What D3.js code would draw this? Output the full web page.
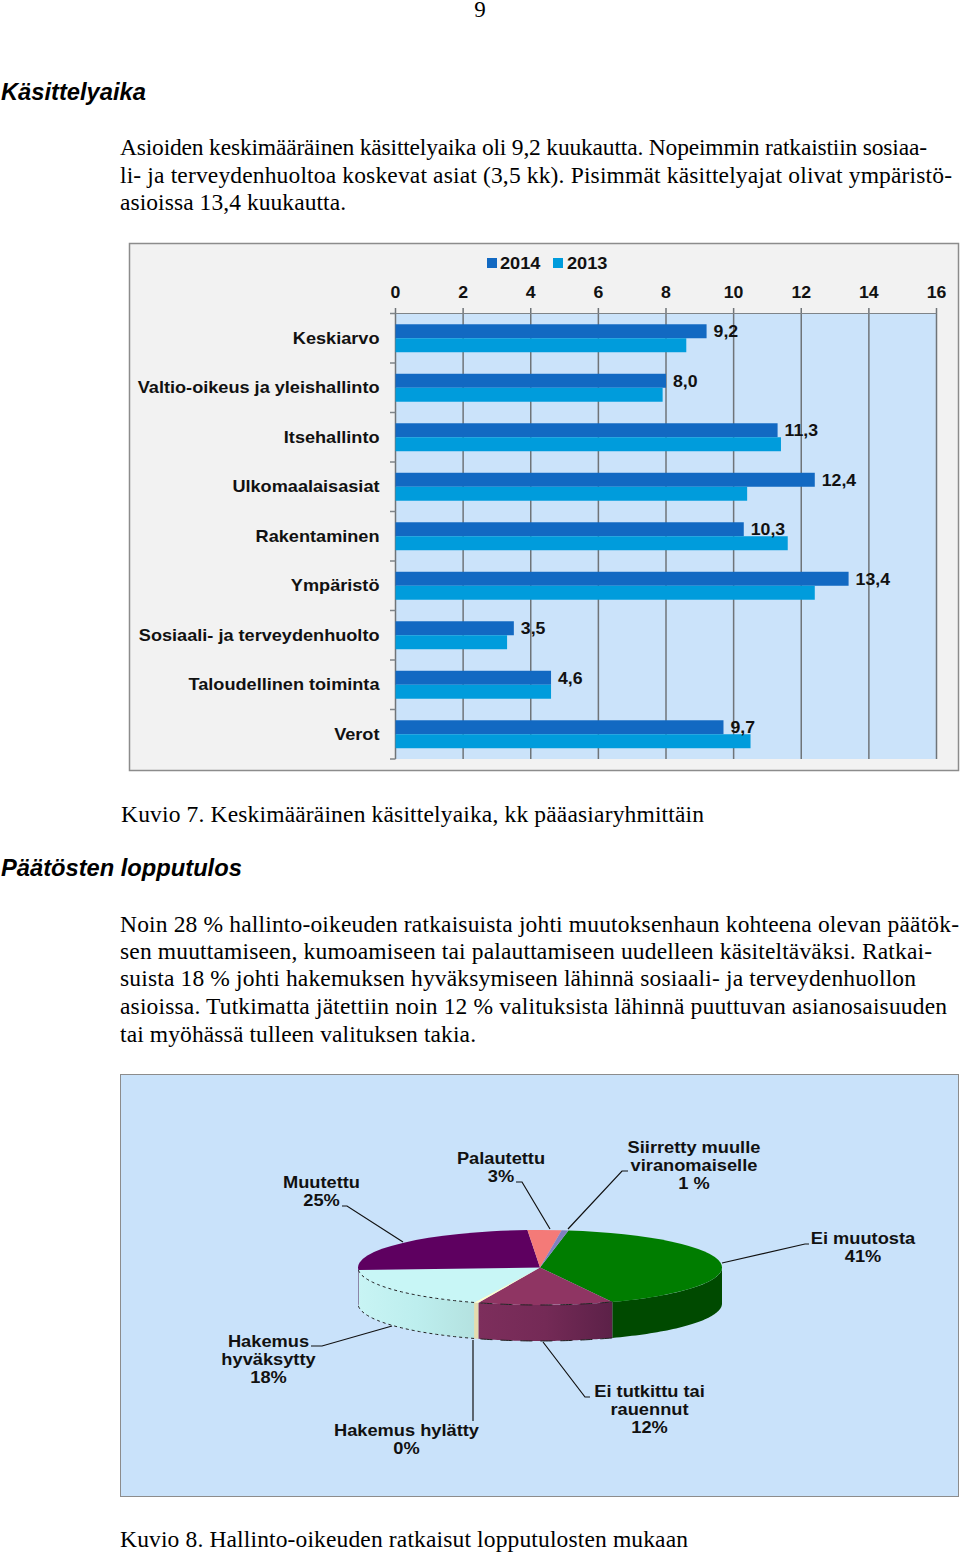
<!DOCTYPE html>
<html><head><meta charset="utf-8">
<script src="https://cdn.jsdelivr.net/npm/d3@7"></script>
<style>html,body{margin:0;padding:0;background:#fff}svg{display:block}</style>
</head><body><svg id="c" width="960" height="1552"></svg>
<script>
const categories=["Keskiarvo","Valtio-oikeus ja yleishallinto","Itsehallinto","Ulkomaalaisasiat","Rakentaminen","Ympäristö","Sosiaali- ja terveydenhuolto","Taloudellinen toiminta","Verot"];
const values2014=[9.2,8.0,11.3,12.4,10.3,13.4,3.5,4.6,9.7];
const values2013=[8.6,7.9,11.4,10.4,11.6,12.4,3.3,4.6,10.5];
const seriesNames=["2014","2013"];
const xTicks=[0,2,4,6,8,10,12,14,16];
const pieNames=["Ei muutosta","Ei tutkittu tai rauennut","Hakemus hylätty","Hakemus hyväksytty","Muutettu","Palautettu","Siirretty muulle viranomaiselle"];
const pieValues=[41,12,0.4,18,25,3,0.6];
const serif="'Liberation Serif',serif", sans="'Liberation Sans',Arial,sans-serif";
const svg=d3.select("#c");
function txt(s,x,y,o={}){const t=svg.append("text").attr("x",x).attr("y",y).text(s)
 .attr("font-family",o.f||serif).attr("font-size",o.s||23.5).attr("fill",o.c||"#000");
 if(o.b)t.attr("font-weight","bold"); if(o.i)t.attr("font-style","italic");
 if(o.a)t.attr("text-anchor",o.a);
 if(o.w){t.attr("textLength",o.w).attr("lengthAdjust","spacing");}
 if(o.k){const L=t.node().getComputedTextLength();t.attr("textLength",L*o.k).attr("lengthAdjust","spacingAndGlyphs");}
 return t;}
txt("9",480,17,{a:"middle",s:23});
txt("Käsittelyaika",1,100,{f:sans,b:1,i:1,s:23.7});
txt("Asioiden keskimääräinen käsittelyaika oli 9,2 kuukautta. Nopeimmin ratkaistiin sosiaa-",120,155,{w:807});
txt("li- ja terveydenhuoltoa koskevat asiat (3,5 kk). Pisimmät käsittelyajat olivat ympäristö-",120,183,{w:832});
txt("asioissa 13,4 kuukautta.",120,210,{w:226});
txt("Kuvio 7. Keskimääräinen käsittelyaika, kk pääasiaryhmittäin",121,822,{w:583});
txt("Päätösten lopputulos",1,876,{f:sans,b:1,i:1,s:23.7});
const body=[["Noin 28 % hallinto-oikeuden ratkaisuista johti muutoksenhaun kohteena olevan päätök-",932,839],
 ["sen muuttamiseen, kumoamiseen tai palauttamiseen uudelleen käsiteltäväksi. Ratkai-",959,812],
 ["suista 18 % johti hakemuksen hyväksymiseen lähinnä sosiaali- ja terveydenhuollon",986,796],
 ["asioissa. Tutkimatta jätettiin noin 12 % valituksista lähinnä puuttuvan asianosaisuuden",1014,827],
 ["tai myöhässä tulleen valituksen takia.",1042,356]];
body.forEach(d=>txt(d[0],120,d[1],{w:d[2]}));
txt("Kuvio 8. Hallinto-oikeuden ratkaisut lopputulosten mukaan",120,1547,{w:568});

// Bar chart
svg.append("rect").attr("x",129.5).attr("y",243.5).attr("width",829).attr("height",527).attr("fill","#f2f2f2").attr("stroke","#8c8c8c").attr("stroke-width",1.5);
const x=d3.scaleLinear().domain([0,16]).range([395.5,936.5]);
const y=d3.scaleBand().domain(categories).range([313.5,759]);
const y1=d3.scaleBand().domain(seriesNames).range([0,y.bandwidth()]).paddingInner(0).paddingOuter(0.77);
const cols={"2014":"#1269c2","2013":"#009cdc"};
svg.append("rect").attr("x",x(0)).attr("y",313.5).attr("width",x(16)-x(0)).attr("height",759-313.5).attr("fill","#cbe3fa");
const grid=svg.append("g");
xTicks.forEach(t=>grid.append("line").attr("x1",x(t)).attr("x2",x(t)).attr("y1",308).attr("y2",759).attr("stroke","#6f7478").attr("stroke-width",1.5));
grid.append("line").attr("x1",x(0)).attr("x2",x(16)).attr("y1",313.5).attr("y2",313.5).attr("stroke","#7f8488").attr("stroke-width",1);
y.domain().concat(["_end"]).forEach((c,i)=>{const yy=313.5+i*y.step();
 grid.append("line").attr("x1",390).attr("x2",395.5).attr("y1",yy).attr("y2",yy).attr("stroke","#7f8488").attr("stroke-width",1.5);});
const lab={f:sans,b:1,s:17,c:"#111"};
categories.forEach((c,i)=>{
 [["2014",values2014[i]],["2013",values2013[i]]].forEach(([s,v])=>{
  svg.append("rect").attr("x",x(0)).attr("y",y(c)+y1(s)).attr("width",x(v)-x(0)).attr("height",y1.bandwidth()).attr("fill",cols[s]);
 });
 txt(c,379.5,y(c)+y.bandwidth()/2+5.5,{...lab,a:"end",k:1.066});
 txt(String(values2014[i].toFixed(1)).replace(".",","),x(values2014[i])+7,y(c)+y1("2014")+13,{...lab,k:1.04});
});
xTicks.forEach(t=>txt(String(t),x(t),298,{...lab,a:"middle",k:1.04}));
svg.append("rect").attr("x",487).attr("y",258).attr("width",10).attr("height",10).attr("fill",cols["2014"]);
txt("2014",500,269,{...lab,k:1.07});
svg.append("rect").attr("x",553).attr("y",258).attr("width",10).attr("height",10).attr("fill",cols["2013"]);
txt("2013",567,269,{...lab,k:1.07});

// Pie
svg.append("rect").attr("x",120.5).attr("y",1074.5).attr("width",838).attr("height",422).attr("fill","#c9e2fa").attr("stroke","#8c8c8c").attr("stroke-width",1);
const defs=svg.append("defs");
function grad(id,stops){const g=defs.append("linearGradient").attr("id",id);
 stops.forEach((c,i)=>g.append("stop").attr("offset",i/(stops.length-1)).attr("stop-color",c));}
grad("sideCyan",["#c8f4f4","#bdeeee","#b4e2e0"]);
grad("sideMaroon",["#7d2e5c","#742a56","#5c2148"]);
const cx=540,cy=1267.5,rx=182,ry=37.5,depth=36;
const topCols=["#007d00","#8f3563","#ffffcc","#c8f6f6","#5e0060","#f47a78","#8080c0"];
const sideCols=["#004a00","url(#sideMaroon)","#e4dcae","url(#sideCyan)","#3f0040","#b05a5a","#5a5a90"];
const start=9*Math.PI/180;
const arcs=d3.pie().sort(null).startAngle(start).endAngle(start+2*Math.PI)(pieValues);
const P=(a,d=0)=>[cx+rx*Math.sin(a),cy-ry*Math.cos(a)+d];
// side walls (front half only)
arcs.forEach((a,i)=>{
 const lo=Math.max(a.startAngle,Math.PI/2), hi=Math.min(a.endAngle,3*Math.PI/2);
 if(hi<=lo)return;
 const n=48, pts=d3.range(n+1).map(k=>lo+(hi-lo)*k/n);
 const path=d3.path();
 pts.forEach((t,k)=>{const p=P(t);k?path.lineTo(p[0],p[1]):path.moveTo(p[0],p[1]);});
 pts.slice().reverse().forEach(t=>{const p=P(t,depth);path.lineTo(p[0],p[1]);});
 path.closePath();
 svg.append("path").attr("d",path.toString()).attr("fill",sideCols[i]);
 if(i==3||i==1){[0,depth].forEach(d=>{const e=d3.path();
   pts.forEach((t,k)=>{const p=P(t,d);k?e.lineTo(p[0],p[1]):e.moveTo(p[0],p[1]);});
   svg.append("path").attr("class","edge").attr("d",e.toString()).attr("fill","none").attr("stroke","#222").attr("stroke-width",1).attr("stroke-dasharray",i==3?"3 3":"12 8");});}
});
const arcGen=d3.arc().innerRadius(0).outerRadius(rx);
const topG=svg.append("g").attr("transform",`translate(${cx},${cy}) scale(1,${ry/rx})`);
topG.selectAll("path").data(arcs).join("path").attr("d",arcGen).attr("fill",(d,i)=>topCols[i]);
svg.selectAll("path.edge").raise();

// Leaders
const leaders=[[[342,1206],[347,1206],[403,1242]],[[516,1182],[522,1182],[550,1229]],[[628,1171],[622,1171],[568,1229]],
 [[809,1244],[805,1244],[722,1263]],[[311,1346],[322,1346],[392,1326]],[[473,1421],[473,1340]],[[590,1397],[585,1397],[543,1342]]];
const ln=d3.line();
leaders.forEach(l=>svg.append("path").attr("d",ln(l)).attr("fill","none").attr("stroke","#111").attr("stroke-width",1.2));
const labels=[[["Muutettu","25%"],321.5,1188],[["Palautettu","3%"],501,1164],[["Siirretty muulle","viranomaiselle","1 %"],694,1153],
 [["Ei muutosta","41%"],863,1244],[["Hakemus","hyväksytty","18%"],268.5,1347],[["Hakemus hylätty","0%"],406.5,1436],[["Ei tutkittu tai","rauennut","12%"],649.5,1397]];
labels.forEach(l=>l[0].forEach((s,i)=>txt(s,l[1],l[2]+i*18,{f:sans,b:1,s:16,a:"middle",c:"#111",k:1.14})));
</script></body></html>
